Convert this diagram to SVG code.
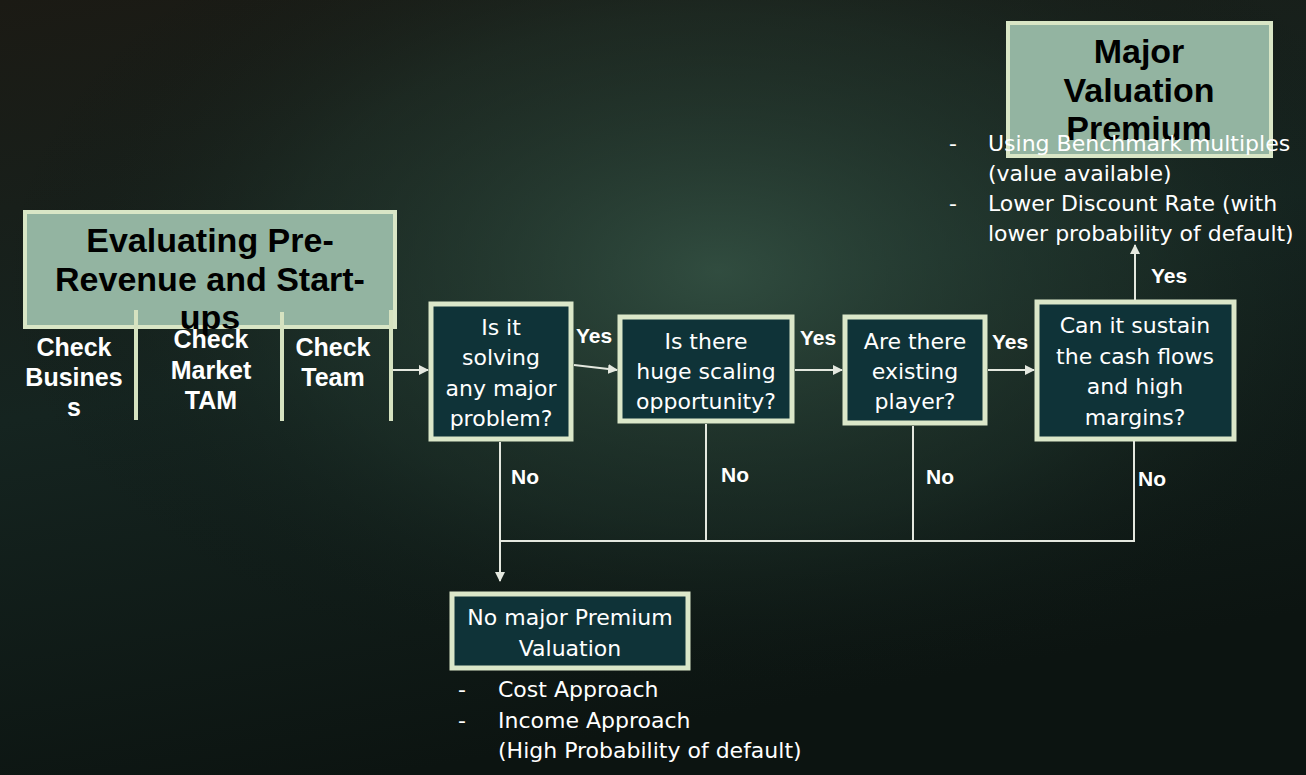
<svg xmlns="http://www.w3.org/2000/svg" width="1306" height="775" viewBox="0 0 1306 775">
<defs>
<linearGradient id="bg" x1="0" y1="0" x2="0.3" y2="1">
<stop offset="0" stop-color="#1b1a14"/>
<stop offset="0.5" stop-color="#152420"/>
<stop offset="1" stop-color="#0c1411"/>
</linearGradient>
<radialGradient id="glow" cx="0.55" cy="0.35" r="0.55">
<stop offset="0" stop-color="#3a5a4a" stop-opacity="0.75"/>
<stop offset="0.6" stop-color="#23392f" stop-opacity="0.4"/>
<stop offset="1" stop-color="#0c1411" stop-opacity="0"/>
</radialGradient>
<marker id="ah" viewBox="0 0 10 10" refX="9" refY="5" markerWidth="10" markerHeight="10" markerUnits="userSpaceOnUse" orient="auto">
<path d="M0,0 L10,5 L0,10 z" fill="#e4e8df"/>
</marker>
<style>
.title{fill:#93b4a1;stroke:#d9e6c6;stroke-width:4}
.node{fill:#0f3338;stroke:#dbe7c9;stroke-width:5}
.tb{font-family:"Liberation Sans",Arial,sans-serif;font-weight:bold;font-size:34px;fill:#000;text-anchor:middle}
.wb{font-family:"Liberation Sans",Arial,sans-serif;font-weight:bold;font-size:25px;fill:#fff;text-anchor:middle}
.lbl{font-family:"Liberation Sans",Arial,sans-serif;font-weight:bold;font-size:21px;fill:#fff}
.nt{font-family:"DejaVu Sans",Verdana,sans-serif;font-size:22px;fill:#fff;text-anchor:middle}
.bt{font-family:"DejaVu Sans",Verdana,sans-serif;font-size:22px;fill:#fff}
.conn{stroke:#e4e8df;stroke-width:2;fill:none}
.sep{stroke:#d5e2c0;stroke-width:4}
</style>
</defs>
<rect width="1306" height="775" fill="url(#bg)"/>
<rect width="1306" height="775" fill="url(#glow)"/>

<g id="title">
<rect class="title" x="25" y="212" width="370" height="115"/>
<text class="tb" x="210" y="252">Evaluating Pre-</text>
<text class="tb" x="210" y="291">Revenue and Start-</text>
<text class="tb" x="210" y="329">ups</text>
</g>

<g id="checks">
<line class="sep" x1="136" y1="310" x2="136" y2="420"/>
<line class="sep" x1="282" y1="312" x2="282" y2="421"/>
<line class="sep" x1="391" y1="310" x2="391" y2="421"/>
<text class="wb" x="74" y="356">Check</text>
<text class="wb" x="74" y="386">Busines</text>
<text class="wb" x="74" y="416">s</text>
<text class="wb" x="211" y="348">Check</text>
<text class="wb" x="211" y="379">Market</text>
<text class="wb" x="211" y="409">TAM</text>
<text class="wb" x="333" y="356">Check</text>
<text class="wb" x="333" y="386">Team</text>
</g>

<g id="n1">
<rect class="node" x="431" y="304" width="140" height="135"/>
<text class="nt" x="501" y="335">Is it</text>
<text class="nt" x="501" y="365">solving</text>
<text class="nt" x="501" y="396">any major</text>
<text class="nt" x="501" y="426">problem?</text>
</g>

<g id="n2">
<rect class="node" x="620" y="317" width="172" height="104"/>
<text class="nt" x="706" y="349">Is there</text>
<text class="nt" x="706" y="379">huge scaling</text>
<text class="nt" x="706" y="409">opportunity?</text>
</g>

<g id="n3">
<rect class="node" x="845" y="317" width="140" height="106"/>
<text class="nt" x="915" y="349">Are there</text>
<text class="nt" x="915" y="379">existing</text>
<text class="nt" x="915" y="409">player?</text>
</g>

<g id="n4">
<rect class="node" x="1037" y="302" width="197" height="137"/>
<text class="nt" x="1135" y="333">Can it sustain</text>
<text class="nt" x="1135" y="364">the cash flows</text>
<text class="nt" x="1135" y="394">and high</text>
<text class="nt" x="1135" y="425">margins?</text>
</g>

<g id="major">
<rect class="title" x="1008" y="23" width="263" height="133"/>
<text class="tb" x="1139" y="63">Major</text>
<text class="tb" x="1139" y="102">Valuation</text>
<text class="tb" x="1139" y="140">Premium</text>
<text class="bt" x="949" y="151">-</text>
<text class="bt" x="988" y="151">Using Benchmark multiples</text>
<text class="bt" x="988" y="181">(value available)</text>
<text class="bt" x="949" y="211">-</text>
<text class="bt" x="988" y="211">Lower Discount Rate (with</text>
<text class="bt" x="988" y="241">lower probability of default)</text>
</g>

<g id="nomajor">
<rect class="node" x="452" y="594" width="236" height="74"/>
<text class="nt" x="570" y="625">No major Premium</text>
<text class="nt" x="570" y="656">Valuation</text>
<text class="bt" x="458" y="697">-</text>
<text class="bt" x="498" y="697">Cost Approach</text>
<text class="bt" x="458" y="728">-</text>
<text class="bt" x="498" y="728">Income Approach</text>
<text class="bt" x="498" y="758">(High Probability of default)</text>
</g>

<g id="connectors">
<line class="conn" x1="393" y1="370" x2="428" y2="370" marker-end="url(#ah)"/>
<line class="conn" x1="574" y1="365" x2="617" y2="370" marker-end="url(#ah)"/>
<line class="conn" x1="795" y1="370" x2="842" y2="370" marker-end="url(#ah)"/>
<line class="conn" x1="988" y1="370" x2="1034" y2="370" marker-end="url(#ah)"/>
<line class="conn" x1="1135" y1="300" x2="1135" y2="245" marker-end="url(#ah)"/>
<polyline class="conn" points="706,424 706,541"/>
<polyline class="conn" points="913,426 913,541"/>
<polyline class="conn" points="1134,441 1134,541 500,541"/>
<line class="conn" x1="500" y1="442" x2="500" y2="581" marker-end="url(#ah)"/>
<text class="lbl" x="576" y="343">Yes</text>
<text class="lbl" x="800" y="345">Yes</text>
<text class="lbl" x="992" y="349">Yes</text>
<text class="lbl" x="1151" y="283">Yes</text>
<text class="lbl" x="511" y="484">No</text>
<text class="lbl" x="721" y="482">No</text>
<text class="lbl" x="926" y="484">No</text>
<text class="lbl" x="1138" y="486">No</text>
</g>
</svg>
